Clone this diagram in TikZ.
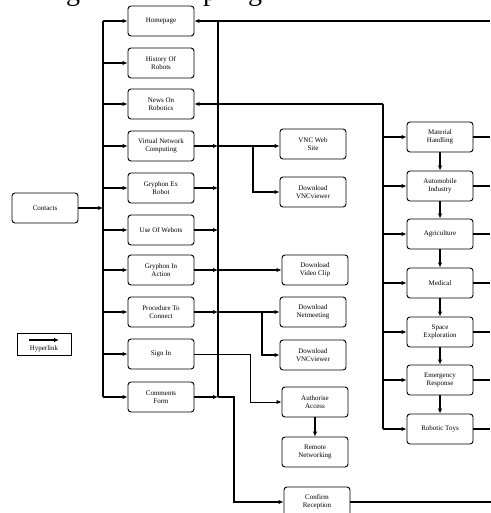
\documentclass[tikz,border=0pt]{standalone}
\usepackage{fontspec}
\setmainfont{Liberation Serif}
\usetikzlibrary{arrows.meta,calc}
\begin{document}
\begin{tikzpicture}[x=1pt,y=-1pt,
  page/.style={draw, rounded corners=3pt, line width=0.9pt, fill=white,
    minimum width=66pt, minimum height=30pt, align=center, inner sep=1pt,
    font=\fontsize{7}{8}\selectfont},
  wire/.style={line width=1.6pt},
  link/.style={wire, -{Latex[length=5pt,width=4.5pt]}}]
\useasboundingbox (0,0) rectangle (490,513);

% descenders of the caption line above the chart
\begin{scope}
  \clip (0,0) rectangle (490,513);
  \foreach \gx/\ch in {73/g, 210/p, 255/g}
    \node[anchor=south, inner sep=0pt, font=\fontsize{28}{30}\selectfont] at (\gx,7) {\ch};
\end{scope}

% bus lines
\coordinate (lbus) at (103,0);
\coordinate (rbus) at (218,0);
\coordinate (cbus) at (383,0);

% main pages
\node[page] (home) at (161,21)  {Homepage};
\node[page] (hist) at (161,63)  {History Of\\Robots};
\node[page] (news) at (161,104) {News On\\Robotics};
\node[page] (vnc)  at (161,146) {Virtual Network\\Computing};
\node[page] (gex)  at (161,188) {Gryphon Ex\\Robot};
\node[page] (web)  at (161,230) {Use Of Webots};
\node[page] (gia)  at (161,270) {Gryphon In\\Action};
\node[page] (proc) at (161,312) {Procedure To\\Connect};
\node[page] (sign) at (161,354) {Sign In};
\node[page] (comm) at (161,397) {Comments\\Form};
\node[page] (cont) at (45,208)  {Contacts};

% second level pages
\node[page] (vncweb) at (313,144) {VNC Web\\Site};
\node[page] (dlvnc)  at (313,192) {Download\\VNCviewer};
\node[page] (dlclip) at (315,270) {Download\\Video Clip};
\node[page] (dlnet)  at (313,312) {Download\\Netmeeting};
\node[page] (dlvncb) at (313,355) {Download\\VNCviewer};
\node[page] (auth)   at (315,402) {Authorise\\Access};
\node[page] (remote) at (315,452) {Remote\\Networking};
\node[page] (conf)   at (317,502) {Confirm\\Reception};

% application pages
\node[page] (mat)   at (440,137) {Material\\Handling};
\node[page] (auto)  at (440,186) {Automobile\\Industry};
\node[page] (agri)  at (440,234) {Agriculture};
\node[page] (med)   at (440,283) {Medical};
\node[page] (space) at (440,332) {Space\\Exploration};
\node[page] (emer)  at (440,380) {Emergency\\Response};
\node[page] (toys)  at (440,429) {Robotic Toys};

% legend
\node[draw, line width=0.8pt, minimum width=54pt, minimum height=22pt] (legend) at (44,344) {};
\draw[link] ($(legend.center)+(-15,-4)$) -- ($(legend.center)+(15,-4)$);
\node[font=\fontsize{7}{8}\selectfont, inner sep=0pt] (legtext) at ($(legend.center)+(0,5)$) {Hyperlink};

% left bus: contacts to every page
\draw[wire] (lbus |- home) -- (lbus |- comm);
\draw[link] (cont.east) -- (lbus |- cont);
\foreach \n in {home,hist,news,vnc,gex,web,gia,proc,sign,comm}
  \draw[link] (lbus |- \n) -- (\n.west);

% right bus: pages back to the homepage
\draw[wire] (rbus |- home) -- (rbus |- comm);
\draw[link] (rbus |- home) -- (home.east);
\coordinate (topend) at (490,21);
\draw[wire] (rbus |- home) -- (topend);
\foreach \n in {vnc,gex,web,gia,proc,comm}
  \draw[link] (\n.east) -- (rbus |- \n);

% news to applications
\draw[link] (cbus |- news) -- (news.east);
\draw[wire] (cbus |- news) -- (cbus |- toys);
\foreach \n in {mat,auto,agri,med,space,emer,toys}
  \draw[link] (cbus |- \n) -- (\n.west);
\draw[link] (mat) -- (auto);
\draw[link] (auto) -- (agri);
\draw[link] (agri) -- (med);
\draw[link] (med) -- (space);
\draw[link] (space) -- (emer);
\draw[link] (emer) -- (toys);
\foreach \n in {mat,auto,agri,med,space,emer,toys}
  \draw[wire] (\n.east) -- ++(17,0);

% virtual network computing
\draw[link] (rbus |- vnc) -- (vncweb.west |- vnc);
\draw[link] (253,146) |- (dlvnc.west);

% gryphon in action
\draw[link] (rbus |- gia) -- (dlclip.west);

% procedure to connect
\draw[link] (rbus |- proc) -- (dlnet.west);
\draw[link] (262,312) |- (dlvncb.west);

% sign in
\draw[line width=1pt, -{Latex[length=5pt,width=4.5pt]}] (sign.east) -- (250,354) |- (auth.west);
\draw[link] (auth) -- (remote);

% comments form
\draw[link] (rbus |- comm) -- (234,397) |- (conf.west);
\draw[wire] (conf.east) -- ++(156,0);
\end{tikzpicture}
\end{document}
